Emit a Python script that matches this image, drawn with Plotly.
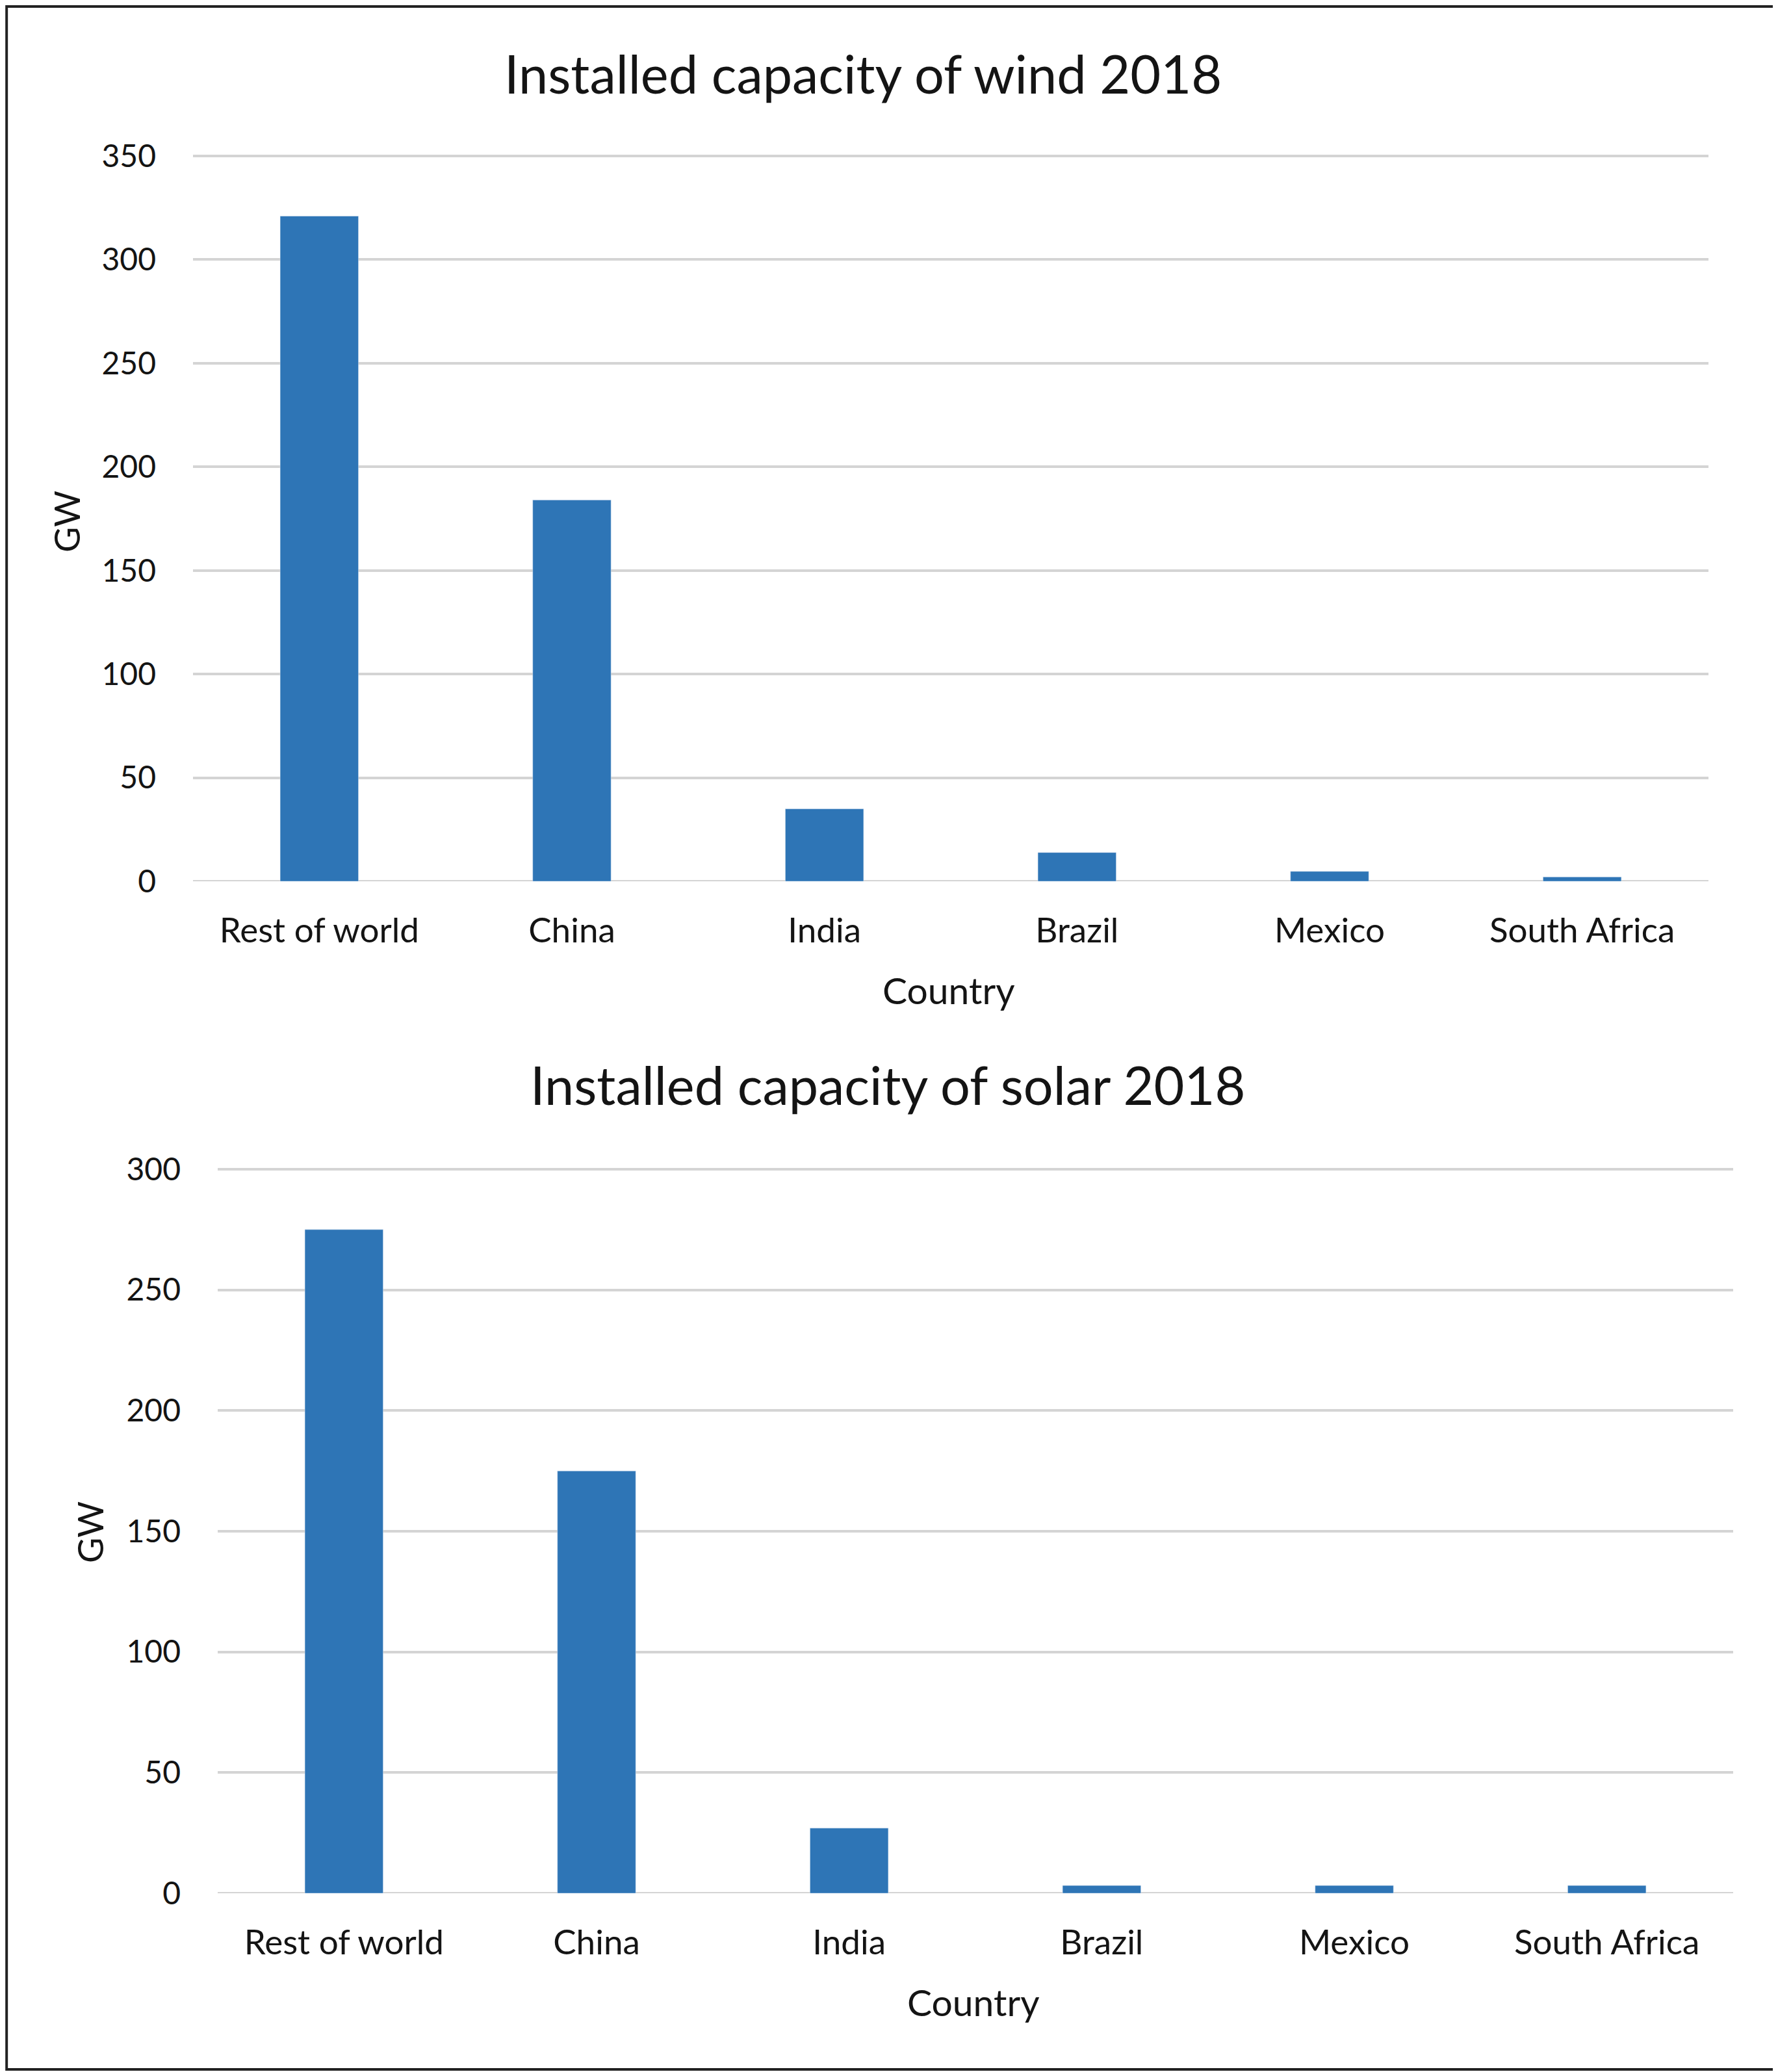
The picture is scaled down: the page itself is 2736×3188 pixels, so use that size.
import plotly.graph_objects as go

countries = ["Rest of world", "China", "India", "Brazil", "Mexico", "South Africa"]
wind_gw = [321, 184, 35, 13.9, 4.8, 2.1]
solar_gw = [275, 175, 27, 3.2, 3.2, 3.2]

W, H = 2736, 3188
OFF = 8  # page margin around the plot div
bar_color = "#2E75B6"
grid_color = "#D4D4D4"
txt = "#141414"
font_name = "Lato"


def px(x):
    return (x - OFF) / W


def py(y):
    # y measured from top in pixels -> paper fraction
    return 1 - (y - OFF) / H


def top_px(y0, y_top, vmax, rmax):
    # pixel of the top of the domain when the range goes a little past vmax
    return y0 - (rmax / vmax) * (y0 - y_top)


wind_max, solar_max = 350, 300
wind_rmax, solar_rmax = 352, 302

fig = go.Figure()
fig.add_trace(go.Bar(x=countries, y=wind_gw, marker_color=bar_color,
                     xaxis="x", yaxis="y", showlegend=False))
fig.add_trace(go.Bar(x=countries, y=solar_gw, marker_color=bar_color,
                     xaxis="x2", yaxis="y2", showlegend=False))

ax_common = dict(showline=False, zeroline=False, ticks="", automargin=False)
xfont = dict(family=font_name, size=53, color=txt)
yfont = dict(family=font_name, size=48, color=txt)

fig.update_layout(
    width=W, height=H,
    margin=dict(l=0, r=0, t=0, b=0, autoexpand=False),
    paper_bgcolor="white", plot_bgcolor="white",
    bargap=0.69,
    font=dict(family=font_name, color=txt),
    xaxis=dict(domain=[px(297), px(2629)], anchor="y", showgrid=False,
               tickfont=xfont, ticklabelstandoff=40, **ax_common),
    yaxis=dict(domain=[py(1356), py(top_px(1356, 240, wind_max, wind_rmax))],
               anchor="x", range=[0, wind_rmax], tick0=0, dtick=50,
               showgrid=True, gridcolor=grid_color, gridwidth=4,
               tickfont=yfont, ticklabelstandoff=56, **ax_common),
    xaxis2=dict(domain=[px(335), px(2667)], anchor="y2", showgrid=False,
                tickfont=xfont, ticklabelstandoff=40, **ax_common),
    yaxis2=dict(domain=[py(2913), py(top_px(2913, 1799, solar_max, solar_rmax))],
                anchor="x2", range=[0, solar_rmax], tick0=0, dtick=50,
                showgrid=True, gridcolor=grid_color, gridwidth=4,
                tickfont=yfont, ticklabelstandoff=56, **ax_common),
)

# baseline at 0 drawn like the gridlines
for yr, x0, x1 in [("y", 297, 2629), ("y2", 335, 2667)]:
    fig.add_shape(type="line", xref="paper", yref=yr, x0=px(x0), x1=px(x1),
                  y0=0, y1=0, line=dict(color=grid_color, width=4), layer="below")

titles = [
    ("Installed capacity of wind 2018", 1328, 112),
    ("Installed capacity of solar 2018", 1366, 1669),
]
for text, x, y in titles:
    fig.add_annotation(text=text, x=px(x), y=py(y), xref="paper", yref="paper",
                       showarrow=False, xanchor="center", yanchor="middle",
                       font=dict(family=font_name, size=81, color=txt))

for x, y in [(1460, 1523), (1498, 3080)]:
    fig.add_annotation(text="Country", x=px(x), y=py(y), xref="paper", yref="paper",
                       showarrow=False, xanchor="center", yanchor="middle",
                       font=dict(family=font_name, size=57, color=txt))

for x, y in [(102, 803), (138, 2358)]:
    fig.add_annotation(text="GW", x=px(x), y=py(y), xref="paper", yref="paper",
                       showarrow=False, xanchor="center", yanchor="middle",
                       textangle=-90,
                       font=dict(family=font_name, size=54, color=txt))

# outer frame
fig.add_shape(type="rect", xref="paper", yref="paper",
              x0=0.0008, x1=px(2733), y0=py(3184), y1=0.9994,
              line=dict(color="#222222", width=4))

fig.write_html("out.html")
